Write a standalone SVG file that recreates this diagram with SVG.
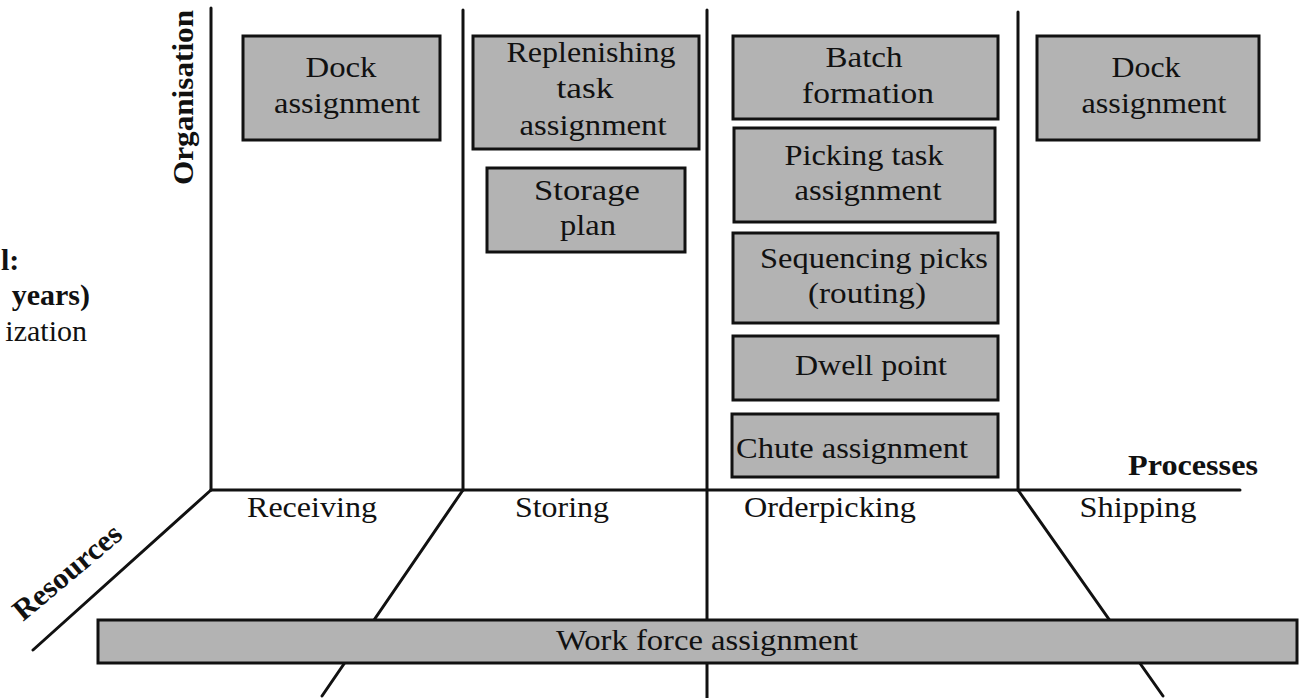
<svg xmlns="http://www.w3.org/2000/svg" width="1303" height="698" viewBox="0 0 1303 698">
<style>
.box{fill:#b3b3b3;stroke:#111;stroke-width:3}
.ln{stroke:#111;stroke-width:3;fill:none;stroke-linecap:round}
.t{font-family:"Liberation Serif","Times New Roman",serif;font-size:30px;fill:#111;text-anchor:middle}
.b{font-family:"Liberation Serif","Times New Roman",serif;font-size:30px;font-weight:bold;fill:#111}
</style>
<rect width="1303" height="698" fill="#fff"/>
<g id="connectors">
<line class="ln" x1="211" y1="8" x2="211" y2="490"/>
<line class="ln" x1="463" y1="10" x2="463" y2="490"/>
<line class="ln" x1="707" y1="10" x2="707" y2="698"/>
<line class="ln" x1="1018" y1="12" x2="1018" y2="490"/>
<line class="ln" x1="211" y1="490" x2="1240" y2="490"/>
<line class="ln" x1="211" y1="490" x2="33" y2="650"/>
<line class="ln" x1="463" y1="490" x2="322" y2="696"/>
<line class="ln" x1="1018" y1="490" x2="1163" y2="696"/>
</g>
<g id="axis-labels">
<text class="b" transform="translate(193,185) rotate(-90)" textLength="175" lengthAdjust="spacingAndGlyphs">Organisation</text>
<text class="b" x="1258" y="475" text-anchor="end" textLength="130" lengthAdjust="spacingAndGlyphs">Processes</text>
<text class="b" transform="translate(23,622) rotate(-40)" textLength="132" lengthAdjust="spacingAndGlyphs">Resources</text>
<text class="b" x="1" y="270">l:</text>
<text class="b" x="90" y="305" text-anchor="end">years)</text>
<text class="t" x="87" y="341" style="text-anchor:end">ization</text>
</g>
<g id="process-labels">
<text class="t" x="312" y="517" textLength="130" lengthAdjust="spacingAndGlyphs">Receiving</text>
<text class="t" x="562" y="517" textLength="94" lengthAdjust="spacingAndGlyphs">Storing</text>
<text class="t" x="830" y="517" textLength="172" lengthAdjust="spacingAndGlyphs">Orderpicking</text>
<text class="t" x="1138" y="517" textLength="117" lengthAdjust="spacingAndGlyphs">Shipping</text>
</g>
<g id="dock-receiving">
<rect class="box" x="243" y="36" width="197" height="104"/>
<text class="t" x="341" y="77" textLength="71" lengthAdjust="spacingAndGlyphs">Dock</text>
<text class="t" x="347" y="113" textLength="146" lengthAdjust="spacingAndGlyphs">assignment</text>
</g>
<g id="replenishing">
<rect class="box" x="473" y="36" width="226" height="113"/>
<text class="t" x="591" y="62" textLength="169" lengthAdjust="spacingAndGlyphs">Replenishing</text>
<text class="t" x="585" y="98" textLength="57" lengthAdjust="spacingAndGlyphs">task</text>
<text class="t" x="593" y="135" textLength="147" lengthAdjust="spacingAndGlyphs">assignment</text>
</g>
<g id="storage-plan">
<rect class="box" x="487" y="168" width="198" height="84"/>
<text class="t" x="587" y="200" textLength="106" lengthAdjust="spacingAndGlyphs">Storage</text>
<text class="t" x="588" y="235" textLength="56" lengthAdjust="spacingAndGlyphs">plan</text>
</g>
<g id="batch-formation">
<rect class="box" x="733" y="36" width="265" height="83"/>
<text class="t" x="864" y="67" textLength="77" lengthAdjust="spacingAndGlyphs">Batch</text>
<text class="t" x="868" y="103" textLength="132" lengthAdjust="spacingAndGlyphs">formation</text>
</g>
<g id="picking-task">
<rect class="box" x="734" y="128" width="261" height="94"/>
<text class="t" x="864" y="165" textLength="159" lengthAdjust="spacingAndGlyphs">Picking task</text>
<text class="t" x="868" y="200" textLength="147" lengthAdjust="spacingAndGlyphs">assignment</text>
</g>
<g id="sequencing">
<rect class="box" x="733" y="233" width="265" height="90"/>
<text class="t" x="874" y="268" textLength="228" lengthAdjust="spacingAndGlyphs">Sequencing picks</text>
<text class="t" x="867" y="303" textLength="118" lengthAdjust="spacingAndGlyphs">(routing)</text>
</g>
<g id="dwell-point">
<rect class="box" x="733" y="336" width="265" height="64"/>
<text class="t" x="871" y="375" textLength="152" lengthAdjust="spacingAndGlyphs">Dwell point</text>
</g>
<g id="chute-assignment">
<rect class="box" x="732" y="414" width="266" height="63"/>
<text class="t" x="852" y="458" textLength="232" lengthAdjust="spacingAndGlyphs">Chute assignment</text>
</g>
<g id="dock-shipping">
<rect class="box" x="1037" y="36" width="222" height="104"/>
<text class="t" x="1146" y="77" textLength="69" lengthAdjust="spacingAndGlyphs">Dock</text>
<text class="t" x="1154" y="113" textLength="145" lengthAdjust="spacingAndGlyphs">assignment</text>
</g>
<g id="work-force">
<rect class="box" x="98" y="620" width="1199" height="43"/>
<text class="t" x="707" y="650" textLength="302" lengthAdjust="spacingAndGlyphs">Work force assignment</text>
</g>
</svg>
